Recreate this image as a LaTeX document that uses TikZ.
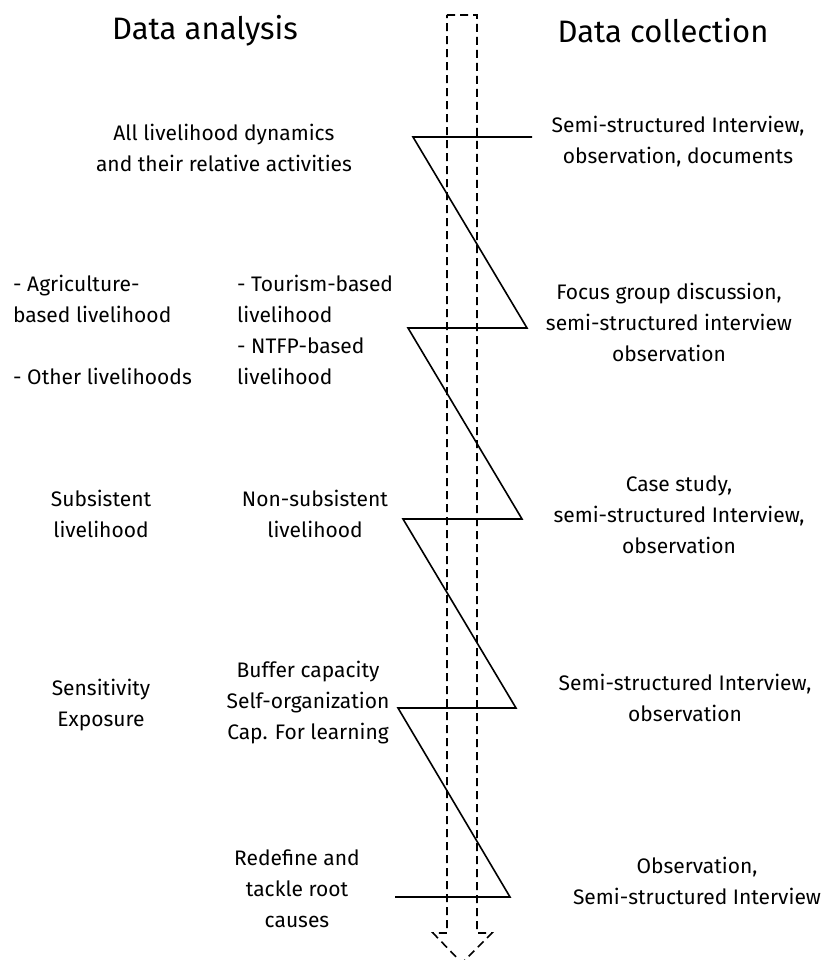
\documentclass[tikz,border=0pt]{standalone}
\usepackage{fontspec}
\setmainfont{Fira Sans}
\begin{document}
\begin{tikzpicture}[x=1pt,y=-1pt,
  txt/.style={inner sep=0pt,align=center,font=\fontsize{21}{31}\selectfont},
  txtl/.style={inner sep=0pt,align=left,anchor=west,font=\fontsize{21}{31}\selectfont},
  head/.style={inner sep=0pt,font=\fontsize{31}{34}\selectfont},
  zig/.style={line width=1.6pt,line join=miter},
  flow/.style={line width=1.6pt,dash pattern=on 8pt off 5pt}]
\useasboundingbox (0,0) rectangle (832,960);

% headings
\node[head] (hA) at (205,31) {Data analysis};
\node[head] (hC) at (663,31) {Data collection};

% downward dashed block arrow
\coordinate (aTL) at (447,15);
\coordinate (aTR) at (477,15);
\coordinate (aBR) at (477,933);
\coordinate (aHR) at (492,933);
\coordinate (aTip) at (462,963);
\coordinate (aHL) at (433,933);
\coordinate (aBL) at (447,933);
\draw[flow] (aTL) -- (aTR) -- (aBR) -- (aHR) -- (aTip) -- (aHL) -- (aBL) -- cycle;

% zigzag between the stages
\coordinate (R1) at (532,137); \coordinate (L1) at (413,137);
\coordinate (R2) at (527,328); \coordinate (L2) at (408,328);
\coordinate (R3) at (522,519); \coordinate (L3) at (403,519);
\coordinate (R4) at (516,708); \coordinate (L4) at (398,708);
\coordinate (R5) at (510,897); \coordinate (L5) at (395,897);
\draw[zig] (R1) -- (L1) -- (R2) -- (L2) -- (R3) -- (L3) -- (R4) -- (L4) -- (R5) -- (L5);

% stage 1
\node[txt] (a1) at (224,148) {All livelihood dynamics\\and their relative activities};
\node[txt] (c1) at (678,142) {Semi-structured Interview,\\observation, documents};

% stage 2
\node[txtl] (a2l) at (13,330) {- Agriculture-\\based livelihood\\[31pt]- Other livelihoods};
\node[txtl] (a2r) at (237,330) {- Tourism-based\\livelihood\\- NTFP-based\\livelihood};
\node[txt] (c2) at (669,322) {Focus group discussion,\\semi-structured interview\\observation};

% stage 3
\node[txt] (a3l) at (101,514) {Subsistent\\livelihood};
\node[txt] (a3r) at (315,514) {Non-subsistent\\livelihood};
\node[txt] (c3) at (679,515) {Case study,\\semi-structured Interview,\\observation};

% stage 4
\node[txt] (a4l) at (101,705) {Sensitivity\\Exposure};
\node[txt] (a4r) at (308,703) {Buffer capacity\\Self-organization\\Cap. For learning};
\node[txt] (c4) at (685,698) {Semi-structured Interview,\\observation};

% stage 5
\node[txt] (a5) at (297,889) {Redefine and\\tackle root\\causes};
\node[txt] (c5) at (697,881) {Observation,\\Semi-structured Interview};
\end{tikzpicture}
\end{document}
